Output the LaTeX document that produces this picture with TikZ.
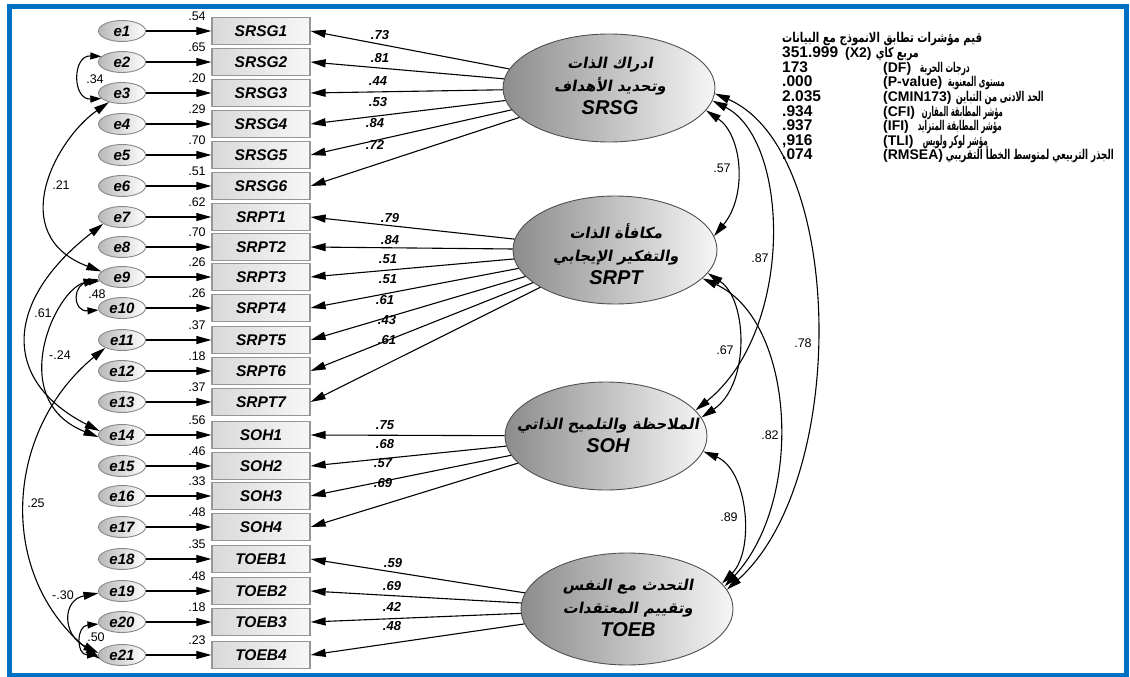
\documentclass[tikz,border=0pt]{standalone}
\usepackage{fontspec}
\setmainfont{Liberation Sans}
\newfontfamily\arabicfont[Script=Arabic]{DejaVu Sans}
\newfontfamily\arabicslant[Script=Arabic,FakeSlant=0.18]{DejaVu Sans}
\TeXXeTstate=1
\usetikzlibrary{arrows.meta,shapes.geometric}
\definecolor{framebl}{RGB}{0,112,192}
\definecolor{boxline}{RGB}{150,150,150}
\definecolor{errline}{RGB}{135,135,135}
\definecolor{latline}{RGB}{80,80,80}
% Arabic text squeezed to a given width (argument carries its own \beginR ... \endR)
\newcommand{\arabfit}[2]{\resizebox{#1pt}{\height}{\upshape\arabicfont #2}}
\tikzset{
  errnode/.style={ellipse, draw=errline, line width=0.9pt, left color=gray!55, right color=white,
    minimum width=47pt, minimum height=21pt, inner sep=0pt,
    font=\fontsize{15}{15}\selectfont\bfseries\itshape},
  obsnode/.style={rectangle, draw=boxline, line width=1.3pt, left color=gray!30, right color=gray!6,
    minimum width=98pt, minimum height=27pt, inner sep=0pt,
    font=\fontsize{15.5}{15.5}\selectfont\bfseries\itshape},
  latnode/.style={ellipse, draw=latline, line width=0.9pt,
    left color={rgb,255:red,140;green,140;blue,140}, right color={rgb,255:red,246;green,246;blue,246},
    inner sep=0pt},
  lattext/.style={inner sep=0pt, align=center, font=\fontsize{15}{23}\selectfont\bfseries\itshape},
  latar/.style={font=\upshape\arabicslant},
  varlab/.style={inner sep=0pt, font=\fontsize{12.5}{12.5}\selectfont},
  loadlab/.style={inner sep=0pt, font=\fontsize{13}{13}\selectfont\bfseries\itshape},
  covlab/.style={inner sep=0pt, font=\fontsize{12.5}{12.5}\selectfont},
  fitnum/.style={inner sep=0pt, anchor=base west, font=\fontsize{15.5}{15}\selectfont\bfseries},
  fitrow/.style={inner sep=0pt, anchor=base west, font=\fontsize{14}{15}\selectfont\bfseries},
  fitar/.style={inner sep=0pt, anchor=base east, font=\fontsize{13.5}{15}\selectfont\bfseries},
  path/.style={->, line width=1.1pt},
  covar/.style={<->, line width=1.1pt},
  smallcov/.style={{Triangle[length=11pt,width=7pt]}-{Triangle[length=11pt,width=7pt]}, line width=1.1pt},
}
\begin{document}
\begin{tikzpicture}[x=1pt,y=-1pt,>={Triangle[length=15pt,width=8pt]}]
\useasboundingbox (0,0) rectangle (1130,677);
% outer frame
\draw[framebl, line width=5pt] (9.5,6.5) rectangle (1126.5,675);

% error terms, indicators and squared multiple correlations
\foreach \i/\yy/\lab/\v in {
  1/31/SRSG1/.54, 2/62/SRSG2/.65, 3/93/SRSG3/.20, 4/124/SRSG4/.29, 5/155/SRSG5/.70,
  6/186/SRSG6/.51, 7/217/SRPT1/.62, 8/247/SRPT2/.70, 9/277/SRPT3/.26, 10/308/SRPT4/.26,
  11/340/SRPT5/.37, 12/371/SRPT6/.18, 13/402/SRPT7/.37, 14/435/SOH1/.56, 15/466/SOH2/.46,
  16/496/SOH3/.33, 17/527/SOH4/.48, 18/559/TOEB1/.35, 19/591/TOEB2/.48, 20/622/TOEB3/.18,
  21/655/TOEB4/.23}{
  \node[errnode] (e\i) at (122,\yy) {e\i};
  \node[obsnode] (b\i) at (261,\yy) {\lab};
  \node[varlab] (v\i) at (197,{\yy-15}) {\v};
  \draw[path] (e\i) -- (b\i);
}

% latent factors (ellipse, then its caption)
\node[latnode, minimum width=212pt, minimum height=108pt] (SRSG) at (609,88) {};
\node[lattext] (SRSGt) at (610,86)
  {{\upshape\arabicslant\beginR ادراك الذات\endR}\\{\upshape\arabicslant\beginR وتحديد الأهداف\endR}\\{\fontsize{20}{22}\selectfont SRSG}};
\node[latnode, minimum width=204pt, minimum height=108pt] (SRPT) at (615,250) {};
\node[lattext] (SRPTt) at (616,254)
  {{\upshape\arabicslant\beginR مكافأة الذات\endR}\\{\upshape\arabicslant\beginR والتفكير الإيجابي\endR}\\{\fontsize{20}{22}\selectfont SRPT}};
\node[latnode, minimum width=202pt, minimum height=108pt] (SOH) at (606,436) {};
\node[lattext] (SOHt) at (608,435)
  {{\upshape\arabicslant\beginR الملاحظة والتلميح الذاتي\endR}\\{\fontsize{20}{22}\selectfont SOH}};
\node[latnode, minimum width=212pt, minimum height=112pt] (TOEB) at (627,609) {};
\node[lattext] (TOEBt) at (628,608)
  {{\upshape\arabicslant\beginR التحدث مع النفس\endR}\\{\upshape\arabicslant\beginR وتقييم المعتقدات\endR}\\{\fontsize{20}{22}\selectfont TOEB}};

% factor loadings
\foreach \lat/\i/\lx/\ly/\w in {
  SRSG/1/380/35/.73, SRSG/2/380/58/.81, SRSG/3/378/81/.44, SRSG/4/378/102/.53,
  SRSG/5/375/123/.84, SRSG/6/375/145/.72,
  SRPT/7/390/218/.79, SRPT/8/390/240/.84, SRPT/9/388/259/.51, SRPT/10/388/279/.51,
  SRPT/11/385/300/.61, SRPT/12/387/320/.43, SRPT/13/387/340/.61,
  SOH/14/385/425/.75, SOH/15/385/444/.68, SOH/16/383/463/.57, SOH/17/383/483/.69,
  TOEB/18/393/563/.59, TOEB/19/392/586/.69, TOEB/20/392/607/.42, TOEB/21/392/626/.48}{
  \draw[path] (\lat) -- (b\i.east);
  \node[loadlab] (l\i) at (\lx,\ly) {\w};
}

% factor covariances
\draw[covar] (SRSG.-13) .. controls (742,135) and (748,195) .. (SRPT.8);
\draw[covar] (SRSG.-7) .. controls (790,140) and (795,330) .. (SOH.16);
\draw[covar] (SRSG.-3) .. controls (845,150) and (850,480) .. (TOEB.11);
\draw[covar] (SRPT.-14) .. controls (748,300) and (750,385) .. (SOH.11);
\draw[covar] (SRPT.-18) .. controls (795,320) and (805,500) .. (TOEB.13);
\draw[covar] (SOH.-9) .. controls (748,470) and (755,550) .. (TOEB.15);
\node[covlab] (c1) at (722,168) {.57};
\node[covlab] (c2) at (760,258) {.87};
\node[covlab] (c3) at (803,343) {.78};
\node[covlab] (c4) at (725,350) {.67};
\node[covlab] (c5) at (770,435) {.82};
\node[covlab] (c6) at (729,517) {.89};

% error covariances
\draw[smallcov] (e2.165) .. controls (72,55) and (72,100) .. (e3.195);
\draw[covar] (e3.215) .. controls (55,140) and (5,235) .. (e9.165);
\draw[smallcov] (e9.190) .. controls (72,283) and (72,312) .. (e10.185);
\draw[covar] (e7.200) .. controls (5,300) and (0,380) .. (e14.170);
\draw[covar] (e9.185) .. controls (55,290) and (5,400) .. (e14.185);
\draw[covar] (e11.205) .. controls (5,430) and (-5,575) .. (e21.190);
\draw[covar] (e19.185) .. controls (62,600) and (62,635) .. (e21.175);
\draw[smallcov] (e20.185) .. controls (76,626) and (76,655) .. (e21.180);
\node[covlab] (d1) at (95,79) {.34};
\node[covlab] (d2) at (61,185) {.21};
\node[covlab] (d3) at (97,294) {.48};
\node[covlab] (d4) at (43,313) {.61};
\node[covlab] (d5) at (60,355) {-.24};
\node[covlab] (d6) at (36,503) {.25};
\node[covlab] (d7) at (63,595) {-.30};
\node[covlab] (d8) at (96,637) {.50};

% model fit indices
\node[fitar, anchor=base west] (a0) at (782,43) {\arabfit{200}{\beginR قيم مؤشرات تطابق الانموذج مع البيانات\endR}};
\node[fitnum] (n1) at (782,57.6) {351.999};
\node[fitrow] (k1) at (845,57.6) {(X2)};
\node[fitar] (a1) at (919,57.6) {\arabfit{43}{\beginR مربع كاي\endR}};
\node[fitnum] (n2) at (782,72.2) {173};
\node[fitrow] (k2) at (883,72.2) {(DF)};
\node[fitar] (a2) at (970,72.2) {\arabfit{50}{\beginR درجات الحرية\endR}};
\node[fitnum] (n3) at (782,86.8) {.000};
\node[fitrow] (k3) at (883,86.8) {(P-value)};
\node[fitar] (a3) at (1005,86.8) {\arabfit{57}{\beginR مستوى المعنوية\endR}};
\node[fitnum] (n4) at (782,101.4) {2.035};
\node[fitrow] (k4) at (883,101.4) {(CMIN173)};
\node[fitar] (a4) at (1044,101.4) {\arabfit{88}{\beginR الحد الادنى من التباين\endR}};
\node[fitnum] (n5) at (782,116) {.934};
\node[fitrow] (k5) at (883,116) {(CFI)};
\node[fitar] (a5) at (1003,116) {\arabfit{81}{\beginR مؤشر المطابقة المقارن\endR}};
\node[fitnum] (n6) at (782,130.6) {.937};
\node[fitrow] (k6) at (883,130.6) {(IFI)};
\node[fitar] (a6) at (1002,130.6) {\arabfit{84}{\beginR مؤشر المطابقة المتزايد\endR}};
\node[fitnum] (n7) at (782,145.2) {,916};
\node[fitrow] (k7) at (883,145.2) {(TLI)};
\node[fitar] (a7) at (988,145.2) {\arabfit{65}{\beginR مؤشر لوكر ولويس\endR}};
\node[fitnum] (n8) at (782,159.8) {.074};
\node[fitrow] (k8) at (883,159.8) {(RMSEA)};
\node[fitar] (a8) at (1114,159.8) {\arabfit{168}{\beginR الجذر التربيعي لمتوسط الخطأ التقريبي\endR}};
\end{tikzpicture}
\end{document}
